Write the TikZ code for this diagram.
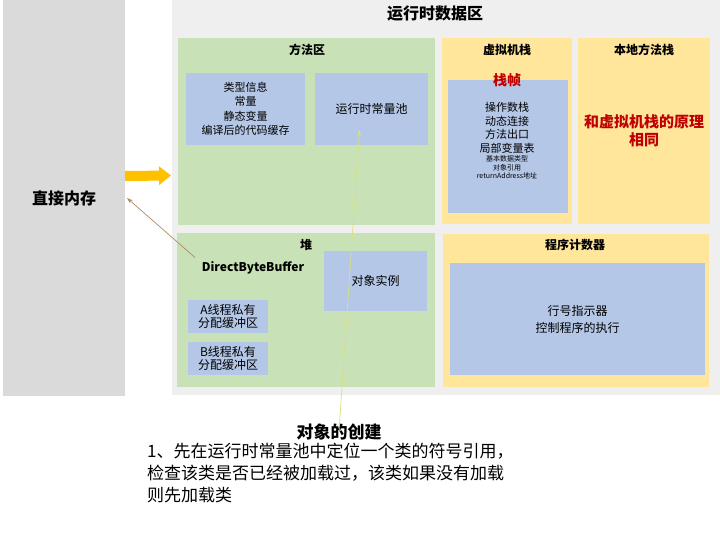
\documentclass[tikz,border=0pt]{standalone}
\usepackage{fontspec}
\setmainfont{Noto Sans CJK SC}
\usepackage{xcolor}
\usetikzlibrary{arrows.meta,positioning,calc}

\definecolor{memgray}{HTML}{DADADA}
\definecolor{rtgray}{HTML}{EFEFEF}
\definecolor{areagreen}{HTML}{C8E1B7}
\definecolor{areayellow}{HTML}{FFE69B}
\definecolor{innerblue}{HTML}{B4C7E7}
\definecolor{darkred}{HTML}{C00000}
\definecolor{gold}{HTML}{FFC000}
\definecolor{linkbrown}{HTML}{B08A62}
\definecolor{linkyellow}{HTML}{D9E07E}

\begin{document}
\begin{tikzpicture}[
  x=1pt, y=-1pt,
  area/.style={anchor=north west, inner sep=0pt, outer sep=0pt},
  greenbox/.style={area, fill=areagreen},
  yellowbox/.style={area, fill=areayellow},
  bluebox/.style={area, fill=innerblue, align=center, font=\fontsize{11}{14.5}\selectfont},
  title/.style={font=\bfseries\fontsize{12}{14}\selectfont, inner sep=0pt},
  bigtitle/.style={font=\bfseries\fontsize{16}{18}\selectfont, inner sep=0pt},
  redtext/.style={text=darkred, font=\bfseries\fontsize{14}{17}\selectfont, align=center, inner sep=0pt},
  bigarrow/.style={-{Triangle[length=12pt, width=18pt]}, line width=10pt, draw=gold},
  thinarrow/.style={-{Stealth[length=6pt, width=4pt]}, line width=0.7pt}
]
\useasboundingbox[fill=white] (0,0) rectangle (720,544);

% left: direct memory
\node[area, fill=memgray, minimum width=122, minimum height=396, font=\bfseries\fontsize{16}{18}\selectfont] (mem) at (3,0) {直接内存};

% runtime data area
\node[area, fill=rtgray, minimum width=548, minimum height=395] (rtda) at (172,0) {};
\node[bigtitle] (rtdatitle) at (435,14) {运行时数据区};

% method area
\node[greenbox, minimum width=257, minimum height=187] (method) at (178,38) {};
\node[title] (methodtitle) at (307,50) {方法区};
\node[bluebox, minimum width=119, minimum height=72] (typeinfo) at (186,73) {类型信息\\常量\\静态变量\\编译后的代码缓存};
\node[bluebox, minimum width=113, minimum height=72, font=\fontsize{12}{14}\selectfont] (pool) at (315,73) {运行时常量池};

% vm stack
\node[yellowbox, minimum width=130, minimum height=186] (vmstack) at (442,38) {};
\node[title] (vmstacktitle) at (507,50) {虚拟机栈};
\node[bluebox, minimum width=120, minimum height=133] (frame) at (448,80) {};
\node[redtext] (frametitle) at (507,80) {栈帧};
\node[align=center, inner sep=0pt, font=\fontsize{11}{13.5}\selectfont] (framebody) at (507,128)
  {操作数栈\\动态连接\\方法出口\\局部变量表};
\node[align=center, inner sep=0pt, font=\fontsize{7}{8.5}\selectfont, below=2pt of framebody] (localvars)
  {基本数据类型\\对象引用\\returnAddress地址};

% native method stack
\node[yellowbox, minimum width=132, minimum height=186] (native) at (578,38) {};
\node[title] (nativetitle) at (644,50) {本地方法栈};
\node[redtext, font=\bfseries\fontsize{15}{18}\selectfont] (nativebody) at (644,131) {和虚拟机栈的原理\\相同};

% heap
\node[greenbox, minimum width=258, minimum height=154] (heap) at (177,233) {};
\node[title] (heaptitle) at (306,245) {堆};
\node[title] (dbb) at (253,268) {DirectByteBuffer};
\node[bluebox, minimum width=103, minimum height=60, font=\fontsize{12}{14}\selectfont] (instance) at (324,251) {对象实例};
\node[bluebox, minimum width=80, minimum height=33, font=\fontsize{12}{13.5}\selectfont] (tlaba) at (188,300) {A线程私有\\分配缓冲区};
\node[bluebox, minimum width=80, minimum height=33, font=\fontsize{12}{13.5}\selectfont] (tlabb) at (188,342) {B线程私有\\分配缓冲区};

% program counter
\node[yellowbox, minimum width=266, minimum height=153] (pc) at (443,234) {};
\node[title] (pctitle) at (575,245) {程序计数器};
\node[bluebox, minimum width=255, minimum height=112, font=\fontsize{12}{17}\selectfont] (pcbody) at (450,263) {行号指示器\\控制程序的执行};

% object creation note
\node[font=\bfseries\fontsize{17}{20}\selectfont, inner sep=0pt] (create) at (339,432) {对象的创建};
\node[anchor=north west, align=left, inner sep=0pt, font=\fontsize{17}{22}\selectfont] (createtext) at (147,443)
  {1、先在运行时常量池中定位一个类的符号引用，\\检查该类是否已经被加载过，该类如果没有加载\\则先加载类};

% arrows
\draw[bigarrow] ([yshift=22pt]mem.east) -- ([yshift=22pt, xshift=-1pt]rtda.west);
\draw[thinarrow, draw=linkbrown] ([xshift=-58pt, yshift=4pt]dbb.north) -- ([xshift=2pt]mem.east);
\draw[thinarrow, draw=linkyellow, -{Stealth[length=6pt, width=4pt, fill=gold]}] ([yshift=-8pt]create.north) -- ([xshift=-12pt, yshift=15pt]pool.south);
\end{tikzpicture}
\end{document}
